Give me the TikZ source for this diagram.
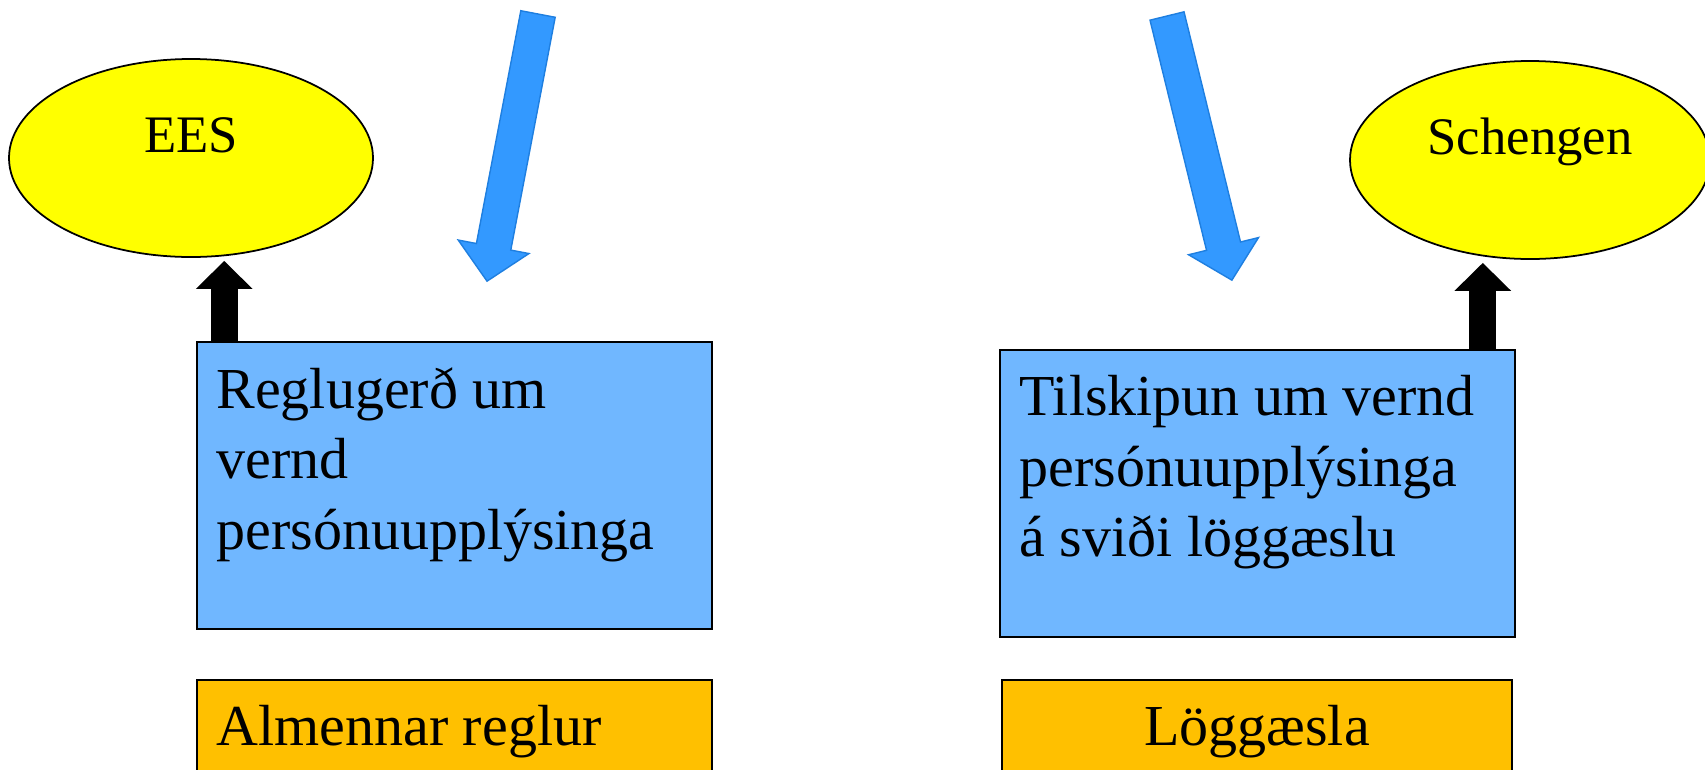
\documentclass[tikz,border=0pt]{standalone}
\usepackage{fontspec}
\setmainfont{Liberation Serif}
\usepackage{xcolor}
\definecolor{dnsky}{HTML}{70B7FF}
\definecolor{dnblue}{HTML}{3399FF}
\definecolor{dnbluevien}{HTML}{1F7FE0}
\definecolor{dnyellow}{HTML}{FFFF00}
\definecolor{dnorange}{HTML}{FFC000}
\usetikzlibrary{calc,positioning,shapes.geometric,arrows.meta}
\begin{document}
\begin{tikzpicture}
		\tikzset{
			bluebox/.style={draw,line width=0.9pt,fill=dnsky,minimum width=10.3cm,minimum height=5.74cm,inner sep=0pt},
			orangebox/.style={draw,line width=0.9pt,fill=dnorange,minimum width=10.3cm,minimum height=2.6cm,inner sep=0pt},
			oval/.style={ellipse,draw,line width=1pt,fill=dnyellow,minimum height=3.96cm,inner sep=0pt,
				font=\fontsize{30}{36}\selectfont,text height=0.8cm,text depth=1.04cm},
			boxfont/.style={font=\fontsize{33}{40}\selectfont,align=left,inner sep=0pt},
			uparrow/.style={line width=0.54cm,-{Triangle[width=1.1cm,length=0.56cm]},shorten >=0.06cm},
			downarrow/.pic={
				\path[fill=dnblue,draw=dnbluevien,line width=0.8pt,pic actions]
				(0,-0.35)--(4.74,-0.35)--(4.74,-0.72)--(5.44,0)--(4.74,0.72)--(4.74,0.35)--(0,0.35)--cycle;
			}
		}
		\useasboundingbox (0,0) rectangle (34.1,-15.38);
		%%%hai mui ten xanh tu tren xuong
		\path (10.76,-0.28) pic[rotate=-100.8] {downarrow};
		\path (23.34,-0.32) pic[rotate=-76.2] {downarrow};
		%%%ben trai
		\node[oval,minimum width=7.28cm] (ees) at (3.82,-3.16) {EES};
		\node[bluebox] (reg) at (9.09,-9.71) {};
		\node[boxfont,anchor=north west] (regtext) at ([xshift=0.4cm,yshift=-0.52cm]reg.north west) {Reglugerð um\\vernd\\persónuupplýsinga};
		\coordinate (regup) at ([xshift=0.56cm]reg.north west);
		\draw[uparrow] (regup) -- (regup |- ees.south);
		\node[orangebox] (alm) at (9.09,-14.9) {};
		\node[boxfont,anchor=base west] (almtext) at ([xshift=0.4cm,yshift=-1.32cm]alm.north west) {Almennar reglur};
		%%%ben phai
		\node[oval,minimum width=7.2cm] (sch) at (30.6,-3.2) {Schengen};
		\node[bluebox] (til) at (25.15,-9.87) {};
		\node[boxfont,anchor=north west] (tiltext) at ([xshift=0.4cm,yshift=-0.52cm]til.north west) {Tilskipun um vernd\\persónuupplýsinga\\á sviði löggæslu};
		\coordinate (tilup) at ([xshift=-0.66cm]til.north east);
		\draw[uparrow] (tilup) -- (tilup |- sch.south);
		\node[orangebox,minimum width=10.2cm] (log) at (25.14,-14.9) {};
		\node[boxfont,anchor=base] (logtext) at ([yshift=-1.32cm]log.north) {Löggæsla};
	\end{tikzpicture}
\end{document}
